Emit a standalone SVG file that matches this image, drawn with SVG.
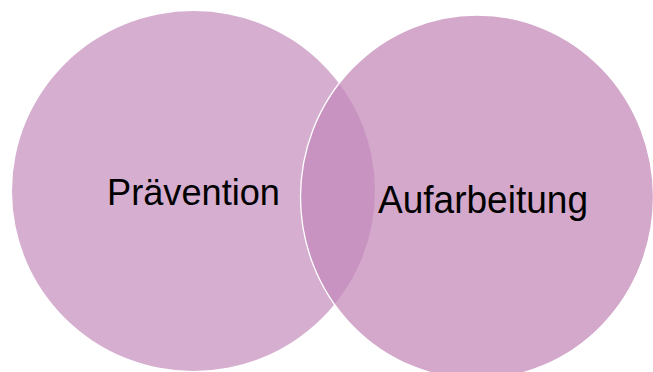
<svg xmlns="http://www.w3.org/2000/svg" width="653" height="372" viewBox="0 0 653 372">
<style>
.lbl{font-family:"Liberation Sans",Arial,sans-serif;fill:#000;}
</style>
<defs>
<clipPath id="clipL"><ellipse cx="193.5" cy="191" rx="181.5" ry="180"/></clipPath>
</defs>
<rect width="653" height="372" fill="#fff"/>
<g id="node-praevention">
<ellipse cx="193.5" cy="191" rx="181.5" ry="180" fill="#d6aed0"/>
</g>
<g id="node-aufarbeitung">
<ellipse cx="477" cy="197" rx="176.5" ry="182" fill="#d3a8cb"/>
<ellipse cx="477" cy="197" rx="176.5" ry="182" fill="#c993c1" clip-path="url(#clipL)"/>
<ellipse cx="477" cy="197" rx="176.5" ry="182" fill="none" stroke="#fff" stroke-width="1.3"/>
</g>
<g id="labels">
<text class="lbl" x="107" y="205" font-size="37" textLength="173" lengthAdjust="spacingAndGlyphs">Prävention</text>
<text class="lbl" x="378" y="213" font-size="38" textLength="210" lengthAdjust="spacingAndGlyphs">Aufarbeitung</text>
</g>
<g id="connectors"></g>
</svg>
